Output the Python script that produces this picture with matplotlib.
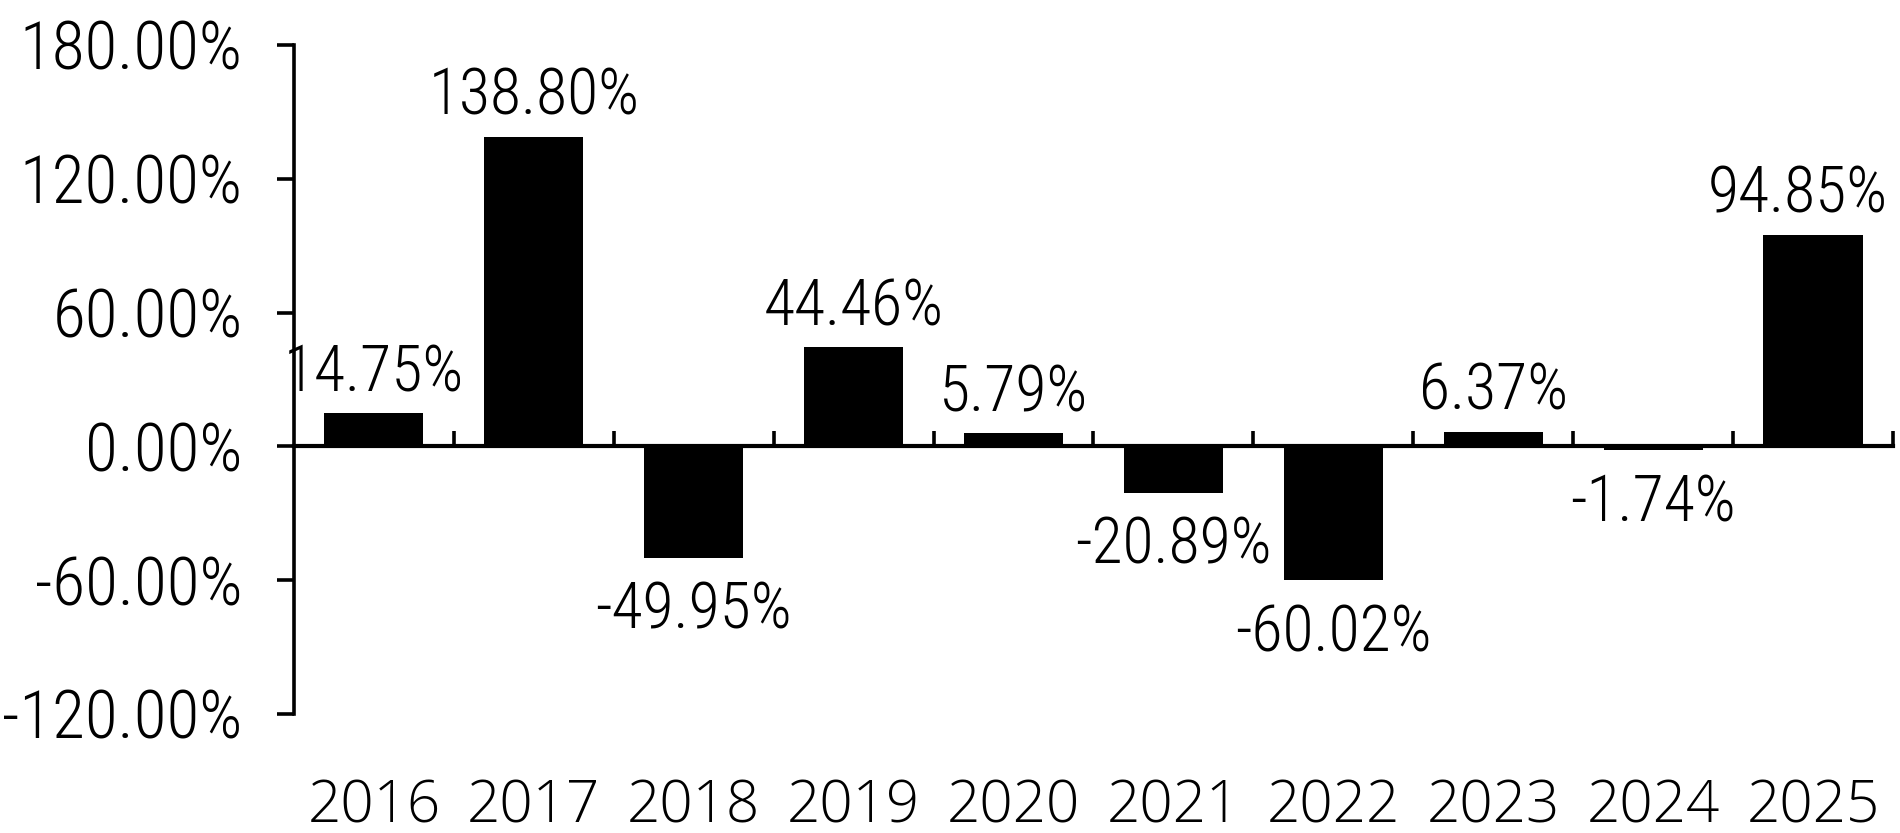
import matplotlib
matplotlib.use("Agg")
import matplotlib.pyplot as plt
from matplotlib.transforms import blended_transform_factory
import logging

years = ["2016", "2017", "2018", "2019", "2020", "2021", "2022", "2023", "2024", "2025"]
returns = [14.75, 138.80, -49.95, 44.46, 5.79, -20.89, -60.02, 6.37, -1.74, 94.85]
yticks = [-120, -60, 0, 60, 120, 180]

cond = ["Roboto Condensed", "Fira Sans Condensed", "Open Sans Condensed", "Archivo Narrow",
        "PT Sans Narrow", "Liberation Sans Narrow", "Roboto", "DejaVu Sans"]
regular = ["Open Sans", "Noto Sans", "Roboto", "DejaVu Sans"]
logging.getLogger("matplotlib.font_manager").setLevel(logging.ERROR)
plt.rcParams['font.family'] = cond

fig = plt.figure(figsize=(19, 8.33), dpi=100)
ax = fig.add_axes([0.1547, 0.1429, 0.9963 - 0.1547, 0.946 - 0.1429])

x = list(range(len(years)))
ax.bar(x, returns, width=0.62, color="black", zorder=3)

ax.set_xlim(-0.5, len(years) - 0.5)
ax.set_ylim(-120, 180)
ax.set_yticks(yticks)
ax.set_yticklabels([f"{v:.2f}%" for v in yticks], fontsize=48.5, family=cond, fontweight="light")

for s in ["top", "right"]:
    ax.spines[s].set_visible(False)
ax.spines["left"].set_linewidth(2.6)
ax.spines["bottom"].set_linewidth(3.0)
ax.spines["bottom"].set_position(("data", 0))
ax.spines["bottom"].set_zorder(4)

ax.tick_params(axis="y", direction="out", length=12, width=2.6, pad=25)
ax.set_xticks([i + 0.5 for i in x])
ax.set_xticklabels([])
ax.tick_params(axis="x", direction="in", length=11, width=2.6)

trans = blended_transform_factory(ax.transData, ax.transAxes)
for i, yr in enumerate(years):
    ax.text(i, -0.162, yr, transform=trans, ha="center", va="baseline", fontsize=42,
            family=regular, fontweight="light")

labels = []
for i, v in enumerate(returns):
    dy = 16 if v >= 0 else -51
    t = ax.annotate(f"{v:.2f}%", (i, v), xytext=(0, dy), textcoords="offset points",
                    ha="center", va="baseline", fontsize=46, family=cond, fontweight="light",
                    annotation_clip=False)
    labels.append((t, dy))

# keep value labels inside the figure (shift left if they would run off the right edge)
fig.canvas.draw()
renderer = fig.canvas.get_renderer()
W = fig.bbox.width
for t, dy in labels:
    bb = t.get_window_extent(renderer)
    if bb.x1 > W - 12:
        shift_px = bb.x1 - (W - 12)
        t.set_position((-shift_px * 72 / fig.dpi, dy))

fig.savefig("out.png", dpi=100)
